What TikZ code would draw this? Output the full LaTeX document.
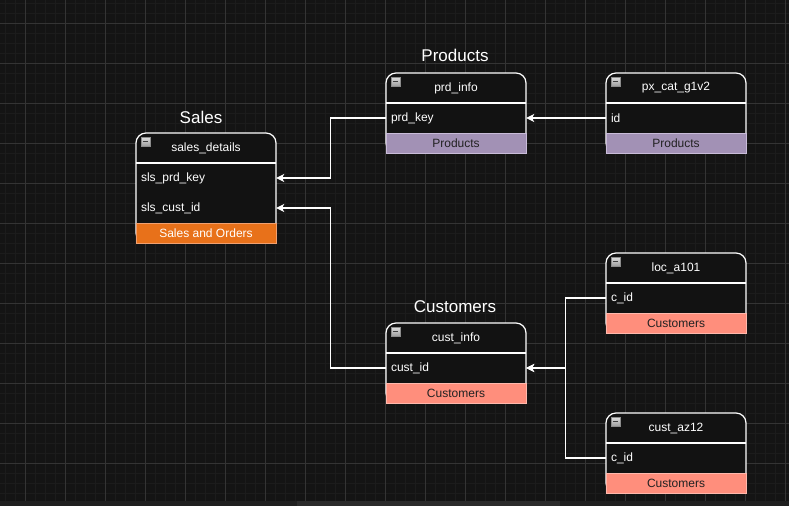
\documentclass[tikz,border=0pt]{standalone}
\usepackage{fontspec}
\setmainfont{Liberation Sans}
\usetikzlibrary{arrows.meta}

\definecolor{canvas}{HTML}{141414}
\definecolor{gridminor}{HTML}{1C1C1C}
\definecolor{gridmajor}{HTML}{343434}
\definecolor{tablefill}{HTML}{121212}
\definecolor{salesfoot}{HTML}{E8711A}
\definecolor{salesline}{HTML}{F0A070}
\definecolor{prodfoot}{HTML}{A291B5}
\definecolor{prodline}{HTML}{C9BCD9}
\definecolor{custfoot}{HTML}{FF8E7C}
\definecolor{custline}{HTML}{FFB8AC}
\definecolor{footdark}{HTML}{222222}

% table frame: rounded header on top, white outline
\newcommand\erframe[3]{%
  \path[tablebody] (#1,#3) -- (#1,#2) -- (#1+140,#2) -- (#1+140,#3) -- cycle;
  \draw[tableline] (#1,#2+30) -- (#1+140,#2+30);
}

\begin{document}
\begin{tikzpicture}[x=1pt,y=-1pt,
  tablebody/.style={draw=white, line width=1.2pt, fill=tablefill, rounded corners=10pt},
  tableline/.style={draw=white, line width=1.2pt},
  title/.style={text=white, inner sep=0pt, font=\fontsize{17}{20}\selectfont},
  headtext/.style={text=white, inner sep=0pt, font=\fontsize{12}{14}\selectfont},
  rowfield/.style={text width=130pt, inner xsep=5pt, inner ysep=0pt, minimum height=30pt,
    align=left, text=white, font=\fontsize{12}{14}\selectfont},
  footer/.style={minimum width=140pt, minimum height=20pt, inner sep=0pt, line width=0.8pt,
    font=\fontsize{12}{14}\selectfont},
  collapse/.style={minimum size=9pt, inner sep=0pt, draw=black!45, line width=0.5pt,
    top color=white!88!black, bottom color=white!62!black,
    path picture={\draw[line width=1.4pt, black!75]
      ([xshift=-2.6pt]path picture bounding box.center) --
      ([xshift=2.6pt]path picture bounding box.center);}},
  link/.style={draw=white, line width=1.2pt, -{Stealth[length=8pt,width=8pt,inset=2pt]}}]

\useasboundingbox (0,0) rectangle (789,506);

% canvas and grid
\fill[canvas] (0,0) rectangle (789,506);
\foreach \gx in {5,15,...,785} \draw[gridminor, line width=0.8pt] (\gx,0) -- (\gx,506);
\foreach \gy in {3,13,...,503} \draw[gridminor, line width=0.8pt] (0,\gy) -- (789,\gy);
\foreach \gx in {25,65,...,785} \draw[gridmajor, line width=0.8pt] (\gx,0) -- (\gx,506);
\foreach \gy in {23,63,...,503} \draw[gridmajor, line width=0.8pt] (0,\gy) -- (789,\gy);

% scroll bar strip
\fill[black!88] (0,500.5) rectangle (789,506);
\fill[black!83] (297,500.5) rectangle (560,506);

% ---- Sales ----
\node[title] (sales-title) at (201,117) {Sales};
\erframe{136}{133}{243}
\node[collapse] (sd-min) at (145.5,141.5) {};
\node[headtext] (sd-head) at (206,148) {sales\_details};
\node[rowfield] (sd-prd) at (206,178) {sls\_prd\_key};
\node[rowfield] (sd-cust) at (206,208) {sls\_cust\_id};
\node[footer, fill=salesfoot, draw=salesline, text=white] (sd-foot) at (206,233) {Sales and Orders};

% ---- Products ----
\node[title] (prod-title) at (455,55) {Products};
\erframe{386}{73}{153}
\node[collapse] (pi-min) at (395.5,81.5) {};
\node[headtext] (pi-head) at (456,88) {prd\_info};
\node[rowfield] (pi-key) at (456,118) {prd\_key};
\node[footer, fill=prodfoot, draw=prodline, text=footdark] (pi-foot) at (456,143) {Products};

\erframe{606}{73}{153}
\node[collapse] (pc-min) at (615.5,81.5) {};
\node[headtext] (pc-head) at (676,88) {px\_cat\_g1v2};
\node[rowfield] (pc-id) at (676,118) {id};
\node[footer, fill=prodfoot, draw=prodline, text=footdark] (pc-foot) at (676,143) {Products};

% ---- Customers ----
\node[title] (cust-title) at (455,307) {Customers};
\erframe{386}{323}{403}
\node[collapse] (ci-min) at (395.5,331.5) {};
\node[headtext] (ci-head) at (456,338) {cust\_info};
\node[rowfield] (ci-id) at (456,368) {cust\_id};
\node[footer, fill=custfoot, draw=custline, text=footdark] (ci-foot) at (456,393) {Customers};

\erframe{606}{253}{333}
\node[collapse] (la-min) at (615.5,261.5) {};
\node[headtext] (la-head) at (676,268) {loc\_a101};
\node[rowfield] (la-cid) at (676,298) {c\_id};
\node[footer, fill=custfoot, draw=custline, text=footdark] (la-foot) at (676,323) {Customers};

\erframe{606}{413}{493}
\node[collapse] (ca-min) at (615.5,421.5) {};
\node[headtext] (ca-head) at (676,428) {cust\_az12};
\node[rowfield] (ca-cid) at (676,458) {c\_id};
\node[footer, fill=custfoot, draw=custline, text=footdark] (ca-foot) at (676,483) {Customers};

% ---- relationships ----
\draw[link] (pc-id.west) -- (pi-key.east);
\draw[link] (pi-key.west) -- ++(-55,0) |- (sd-prd.east);
\draw[link] (ci-id.west) -- ++(-55,0) |- (sd-cust.east);
\draw[link] (la-cid.west) -- ++(-40,0) |- (ci-id.east);
\draw[link] (ca-cid.west) -- ++(-40,0) |- (ci-id.east);

\end{tikzpicture}
\end{document}
